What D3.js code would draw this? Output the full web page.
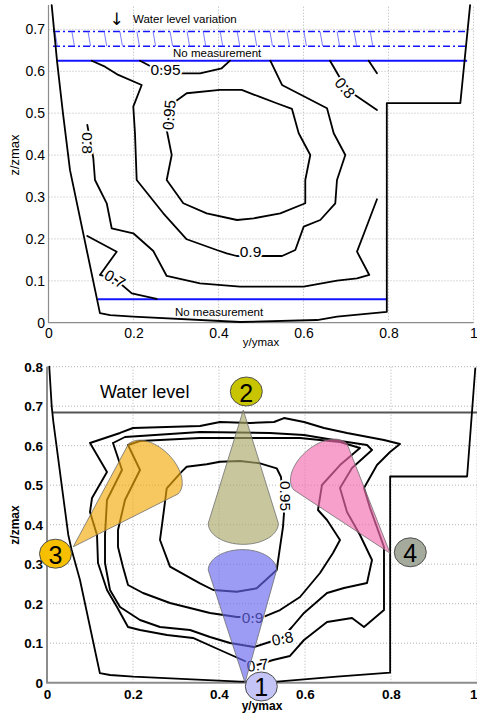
<!DOCTYPE html>
<html><head><meta charset="utf-8">
<script src="https://cdn.jsdelivr.net/npm/d3@7"></script>
<style>body{margin:0;background:#fff}</style>
</head><body><svg id="c" width="477" height="715"></svg>
<script>
// ---------------- DATA ----------------
const xTicks = [0, 0.2, 0.4, 0.6, 0.8, 1];
const xTickLabels = ["0", "0.2", "0.4", "0.6", "0.8", "1"];
const topYTicks = [0, 0.1, 0.2, 0.3, 0.4, 0.5, 0.6, 0.7];
const topYTickLabels = ["0", "0.1", "0.2", "0.3", "0.4", "0.5", "0.6", "0.7"];
const botYTicks = [0, 0.1, 0.2, 0.3, 0.4, 0.5, 0.6, 0.7, 0.8];
const botYTickLabels = ["0", "0.1", "0.2", "0.3", "0.4", "0.5", "0.6", "0.7", "0.8"];

// channel cross-section (y/ymax, z/zmax)
const topWall = [[0.0075,0.758],[0.02,0.625],[0.034,0.5],[0.0506,0.364],[0.121,0.023],[0.145,0.018],[0.199,0.0143],[0.451,0.0017],[0.632,0.0064],[0.679,0.0143],[0.796,0.026],[0.796,0.524],[0.969,0.524],[0.992,0.758]];
const botWall = [[0.0053,0.8],[0.011,0.699],[0.0147,0.661],[0.0495,0.374],[0.0574,0.336],[0.0767,0.26],[0.123,0.024],[0.1465,0.0195],[0.2007,0.0152],[0.449,0.0025],[0.535,0.0025],[0.674,0.0152],[0.798,0.0253],[0.798,0.522],[0.977,0.522],[0.996,0.796]];

// top panel reference levels
const waterVarTop = 0.695, waterVarBottom = 0.660, noMeasTop = 0.625, noMeasBottom = 0.056;
const waterVarSpan = [0.0106, 0.985];
const noMeasTopSpan = [0.02, 0.985];
const noMeasBottomSpan = [0.116, 0.797];
const hatchX = [0.015,0.055,0.093,0.131,0.168,0.208,0.246,0.286,0.326,0.364,0.404,0.444,0.484,0.521,0.561,0.601,0.639,0.679,0.719,0.757];

// top panel isolines
const topC07 = [[0.0913,0.207],[0.1605,0.1695],[0.121,0.114],[0.1565,0.1043],[0.196,0.070],[0.2546,0.0566]];
const topC08 = [[0.0913,0.4719],[0.1054,0.393],[0.1094,0.3406],[0.137,0.285],[0.1487,0.2253],[0.1995,0.2134],[0.2466,0.1711],[0.2781,0.1115],[0.3565,0.094],[0.4506,0.0859],[0.6005,0.0859],[0.6788,0.1003],[0.7259,0.106],[0.7548,0.1139],[0.7259,0.1695],[0.7454,0.2213],[0.7729,0.2946]];
const topC08b = [[0.6624,0.6253],[0.6859,0.584],[0.7212,0.5434],[0.7729,0.5076]];
const topC08c = [[0.7534,0.6253],[0.7729,0.5953]];
const topC09 = [[0.5219,0.6253],[0.5494,0.5674],[0.6553,0.5118],[0.6711,0.4521],[0.6984,0.4003],[0.6788,0.3406],[0.6748,0.285],[0.6395,0.2451],[0.6005,0.2292],[0.5807,0.1735],[0.5494,0.1592],[0.5064,0.1592],[0.4428,0.1592],[0.4193,0.1657],[0.3958,0.1735],[0.3252,0.1991],[0.2701,0.2611],[0.2075,0.3406],[0.2035,0.4521],[0.1995,0.5156],[0.2193,0.5674],[0.1642,0.5913],[0.1329,0.6111],[0.1016,0.6253]];
const topC095a = [[0.2153,0.6253],[0.2388,0.6126],[0.3094,0.5952],[0.3565,0.5952],[0.4075,0.6072],[0.4271,0.6253]];
const topC095b = [[0.2976,0.5275],[0.3252,0.5476],[0.4035,0.5555],[0.4546,0.5555],[0.4976,0.5388],[0.5369,0.5237],[0.5729,0.5101],[0.5887,0.4521],[0.616,0.4003],[0.6042,0.3406],[0.6042,0.285],[0.5454,0.2611],[0.4828,0.2492],[0.4435,0.2451],[0.3722,0.2611],[0.3172,0.285],[0.2781,0.3406],[0.2899,0.4003],[0.2781,0.46],[0.2835,0.4958],[0.2976,0.5275]];
const topLabels = [
  {t:"0.95", p:[0.2753,0.6044], r:0},
  {t:"0.95", p:[0.2835,0.4958], r:-85},
  {t:"0.8",  p:[0.0918,0.4289], r:90},
  {t:"0.8",  p:[0.6976,0.5603], r:50},
  {t:"0.9",  p:[0.4753,0.170],  r:0},
  {t:"0.7",  p:[0.1565,0.1043], r:30}
];

// bottom panel
const waterLevel = 0.684;
const waterLevelSpan = [0.012, 1.0];
const botC07 = [[0.1,0.6068],[0.1698,0.6322],[0.2,0.6448],[0.3558,0.6499],[0.4023,0.66],[0.4721,0.6575],[0.5279,0.66],[0.5512,0.6701],[0.5977,0.66],[0.6442,0.6448],[0.6977,0.6322],[0.7837,0.6144],[0.8209,0.6043],[0.7977,0.584],[0.7674,0.5511],[0.7372,0.4929],[0.7512,0.4423],[0.7721,0.379],[0.7837,0.3435],[0.7837,0.184],[0.7372,0.1411],[0.7093,0.1638],[0.6512,0.1537],[0.5977,0.1081],[0.5651,0.0676],[0.5256,0.0575],[0.4884,0.0448],[0.4651,0.0524],[0.4023,0.0828],[0.3395,0.1132],[0.2791,0.1208],[0.2163,0.1334],[0.1884,0.1411],[0.1628,0.1916],[0.1395,0.2347],[0.1186,0.303],[0.1163,0.3739],[0.1,0.4321],[0.1047,0.4676],[0.1395,0.5334],[0.1,0.6068]];
const botC08 = [[0.1535,0.6068],[0.1814,0.622],[0.3558,0.6347],[0.5186,0.6322],[0.5977,0.6271],[0.6674,0.6144],[0.7442,0.6018],[0.7558,0.5891],[0.7093,0.5436],[0.6814,0.4929],[0.6977,0.4321],[0.7279,0.3739],[0.7558,0.3106],[0.7442,0.2524],[0.6907,0.2397],[0.6512,0.2271],[0.5977,0.1765],[0.5698,0.141],[0.5465,0.1131],[0.4814,0.0903],[0.4256,0.1005],[0.3791,0.1157],[0.3326,0.1334],[0.2628,0.141],[0.2163,0.1587],[0.1698,0.1916],[0.1465,0.2347],[0.1349,0.303],[0.1349,0.3739],[0.1395,0.4625],[0.1744,0.5385],[0.1535,0.6068]];
const botC09 = [[0.1884,0.6018],[0.2163,0.6119],[0.3558,0.6195],[0.5884,0.6195],[0.6814,0.6094],[0.7279,0.5942],[0.6814,0.5511],[0.6395,0.5005],[0.6302,0.4372],[0.6512,0.4119],[0.6814,0.3613],[0.6651,0.3284],[0.6349,0.2777],[0.5884,0.217],[0.5419,0.184],[0.5023,0.1663],[0.4419,0.1663],[0.3791,0.1765],[0.286,0.2018],[0.2233,0.2271],[0.1884,0.2473],[0.1767,0.2929],[0.1651,0.3435],[0.1651,0.3866],[0.1814,0.4625],[0.2163,0.5385],[0.1884,0.6018]];
const botC095 = [[0.3133,0.5342],[0.3249,0.5468],[0.3714,0.5529],[0.4023,0.5595],[0.4488,0.5613],[0.4953,0.5554],[0.5342,0.5428],[0.5442,0.5208],[0.5512,0.4296],[0.5488,0.3942],[0.5419,0.3435],[0.5342,0.2853],[0.4877,0.239],[0.4412,0.2304],[0.3867,0.2347],[0.3558,0.2516],[0.286,0.2937],[0.2628,0.3613],[0.2705,0.4246],[0.2784,0.4922],[0.3133,0.5342]];
const botLabels = [
  {t:"0.95", p:[0.5535,0.4727], r:90},
  {t:"0.9",  p:[0.4779,0.1638], r:0},
  {t:"0.8",  p:[0.5477,0.1119], r:-12},
  {t:"0.7",  p:[0.4895,0.0448], r:-8}
];
// probe cones: apex, two ends of the rounded base
const coneNames = ["1", "2", "3", "4"];
const coneApex = [[0.4605,0.0],[0.4565,0.690],[0.061,0.344],[0.798,0.3276]];
const coneEndA = [[0.534,0.285],[0.538,0.4035],[0.189,0.6035],[0.698,0.604]];
const coneEndB = [[0.375,0.285],[0.375,0.4035],[0.305,0.478],[0.574,0.488]];
const markerCenters = [[0.4984,-0.0096],[0.4635,0.7372],[0.0198,0.3266],[0.8449,0.3301]];

// ---------------- STYLE ----------------
const FONT = '"Liberation Sans", Arial, Helvetica, sans-serif';
const coneFill = ["#6767ee", "#aaa767", "#f4aa0a", "#f46db1"];
const markerFill = ["#c4c4f6", "#c8c400", "#f6c000", "#a4aa9c"];
const coneOpacity = 0.65, coneBulge = 0.3;

const svg = d3.select("#c");
svg.append("rect").attr("width", 477).attr("height", 715).attr("fill", "#fff");

const sxT = d3.scaleLinear([0, 1], [48.5, 473.5]);
const syT = d3.scaleLinear([0, 0.7], [322.7, 29.4]);
const sxB = d3.scaleLinear([0, 1], [47, 477]);
const syB = d3.scaleLinear([0, 0.8], [682.7, 366.7]);

function grid(sx, sy, yt, ytop) {
  const g = svg.append("g").attr("stroke", "#b4b4b4").attr("stroke-width", 1).attr("stroke-dasharray", "1,2");
  xTicks.slice(1).forEach(v => g.append("line").attr("x1", sx(v)).attr("x2", sx(v)).attr("y1", sy(0)).attr("y2", sy(ytop)));
  yt.slice(1).forEach(v => g.append("line").attr("x1", sx(0)).attr("x2", sx(1)).attr("y1", sy(v)).attr("y2", sy(v)));
}
function axes(sx, sy, yt, ytl, ytop, bold, padX, padY, sw, fs, lastEnd) {
  const gx = svg.append("g").attr("transform", `translate(0,${sy(0)})`)
    .call(d3.axisBottom(sx).tickValues(xTicks).tickFormat((d, i) => xTickLabels[i]).tickSize(0).tickPadding(padX));
  gx.select(".domain").remove();
  gx.selectAll("text").attr("font-size", fs).attr("font-family", FONT).attr("fill", "#000").attr("font-weight", bold ? "bold" : "normal");
  if (lastEnd) gx.selectAll(".tick").filter(d => d === 1).select("text").attr("text-anchor", "end").attr("x", 0);
  const gy = svg.append("g").attr("transform", `translate(${sx(0)},0)`)
    .call(d3.axisLeft(sy).tickValues(yt).tickFormat((d, i) => ytl[i]).tickSize(0).tickPadding(padY));
  gy.select(".domain").remove();
  gy.selectAll("text").attr("font-size", fs).attr("font-family", FONT).attr("fill", "#000").attr("font-weight", bold ? "bold" : "normal");
  svg.append("path").attr("d", `M${sx(0)},${sy(ytop)}V${sy(0)}H${sx(1)}`).attr("fill", "none").attr("stroke", "#8c8c8c").attr("stroke-width", sw);
}
function poly(sx, sy, pts, w, color) {
  const line = d3.line().x(d => sx(d[0])).y(d => sy(d[1]));
  svg.append("path").attr("d", line(pts)).attr("fill", "none").attr("stroke", color || "#000")
    .attr("stroke-width", w).attr("stroke-linejoin", "round").attr("stroke-linecap", "round");
}
function labels(sx, sy, arr, size) {
  arr.forEach(l => {
    svg.append("text").attr("transform", `translate(${sx(l.p[0])},${sy(l.p[1])}) rotate(${l.r})`)
      .attr("text-anchor", "middle").attr("dominant-baseline", "central")
      .attr("font-family", FONT).attr("font-size", size).attr("fill", "#000")
      .attr("stroke", "#fff").attr("stroke-width", 4).attr("paint-order", "stroke").text(l.t);
  });
}

// ============ TOP PANEL ============
grid(sxT, syT, topYTicks, 0.758);
axes(sxT, syT, topYTicks, topYTickLabels, 0.758, false, 5.3, 3.5, 1.2, 14, false);
svg.append("text").attr("transform", `translate(19,155) rotate(-90)`).attr("text-anchor", "middle")
  .attr("font-family", FONT).attr("font-size", 13).text("z/zmax");
svg.append("text").attr("x", sxT(0.5)).attr("y", 346).attr("text-anchor", "middle")
  .attr("font-family", FONT).attr("font-size", 11.5).text("y/ymax");

// blue lines
const blue = "#1414ff";
[waterVarTop, waterVarBottom].forEach(z => svg.append("line")
  .attr("x1", sxT(waterVarSpan[0])).attr("x2", sxT(waterVarSpan[1])).attr("y1", syT(z)).attr("y2", syT(z))
  .attr("stroke", blue).attr("stroke-width", 1.5).attr("stroke-dasharray", "7,3,2,3"));
hatchX.forEach(x => svg.append("line")
  .attr("x1", sxT(x)).attr("x2", sxT(x + 0.006)).attr("y1", syT(waterVarTop)).attr("y2", syT(waterVarBottom))
  .attr("stroke", "#5a5aff").attr("stroke-width", 0.8));
svg.append("line").attr("x1", sxT(noMeasTopSpan[0])).attr("x2", sxT(noMeasTopSpan[1]))
  .attr("y1", syT(noMeasTop)).attr("y2", syT(noMeasTop)).attr("stroke", blue).attr("stroke-width", 2);
svg.append("line").attr("x1", sxT(noMeasBottomSpan[0])).attr("x2", sxT(noMeasBottomSpan[1]))
  .attr("y1", syT(noMeasBottom)).attr("y2", syT(noMeasBottom)).attr("stroke", blue).attr("stroke-width", 2);

poly(sxT, syT, topWall, 1.8);
[topC07, topC08, topC08b, topC08c, topC09, topC095a, topC095b].forEach(c => poly(sxT, syT, c, 1.8));
labels(sxT, syT, topLabels, 15.5);

svg.append("text").attr("x", sxT(0.16)).attr("y", syT(0.7105)).attr("text-anchor", "middle")
  .attr("font-family", "DejaVu Sans").attr("font-size", 17).text("↓");
svg.append("text").attr("x", sxT(0.1988)).attr("y", syT(0.7146)).attr("font-family", FONT).attr("font-size", 11.5).text("Water level variation");
svg.append("text").attr("x", sxT(0.293)).attr("y", syT(0.6353)).attr("font-family", FONT).attr("font-size", 11.5).text("No measurement");
svg.append("text").attr("x", sxT(0.2976)).attr("y", syT(0.0148)).attr("font-family", FONT).attr("font-size", 11.5).text("No measurement");

// ============ BOTTOM PANEL ============
grid(sxB, syB, botYTicks, 0.8);
axes(sxB, syB, botYTicks, botYTickLabels, 0.8, true, 6.3, 4, 2, 13.5, true);
svg.append("text").attr("transform", `translate(19,525) rotate(-90)`).attr("text-anchor", "middle")
  .attr("font-family", FONT).attr("font-weight", "bold").attr("font-size", 12).text("z/zmax");
svg.append("text").attr("x", 262).attr("y", 710).attr("text-anchor", "middle")
  .attr("font-family", FONT).attr("font-weight", "bold").attr("font-size", 12).text("y/ymax");

svg.append("line").attr("x1", sxB(waterLevelSpan[0])).attr("x2", sxB(waterLevelSpan[1]))
  .attr("y1", syB(waterLevel)).attr("y2", syB(waterLevel)).attr("stroke", "#555").attr("stroke-width", 2.2);
svg.append("text").attr("x", sxB(0.1233)).attr("y", syB(0.7215)).attr("font-family", FONT).attr("font-size", 18).text("Water level");

poly(sxB, syB, botWall, 1.8);
[botC07, botC08, botC09, botC095].forEach(c => poly(sxB, syB, c, 1.9));
labels(sxB, syB, botLabels, 15.5);

// cones
coneNames.forEach((n, i) => {
  const A = [sxB(coneApex[i][0]), syB(coneApex[i][1])];
  const P1 = [sxB(coneEndA[i][0]), syB(coneEndA[i][1])];
  const P2 = [sxB(coneEndB[i][0]), syB(coneEndB[i][1])];
  const M = [(P1[0] + P2[0]) / 2, (P1[1] + P2[1]) / 2];
  const dx = P1[0] - P2[0], dy = P1[1] - P2[1];
  const L = Math.hypot(dx, dy), a = L / 2, b = L * coneBulge;
  const u = [dx / L, dy / L];
  let nv = [-u[1], u[0]];
  if (nv[0] * (M[0] - A[0]) + nv[1] * (M[1] - A[1]) < 0) nv = [u[1], -u[0]];
  const pts = [A, P1];
  for (let k = 1; k < 40; k++) {
    const t = Math.PI * k / 40;
    pts.push([M[0] + a * Math.cos(t) * u[0] + b * Math.sin(t) * nv[0], M[1] + a * Math.cos(t) * u[1] + b * Math.sin(t) * nv[1]]);
  }
  pts.push(P2);
  svg.append("path").attr("d", d3.line()(pts) + "Z").attr("fill", coneFill[i]).attr("fill-opacity", coneOpacity)
    .attr("stroke", "#6e6e6e").attr("stroke-width", 0.8);
});
// markers
coneNames.forEach((n, i) => {
  const cx = sxB(markerCenters[i][0]), cy = syB(markerCenters[i][1]);
  svg.append("ellipse").attr("cx", cx).attr("cy", cy).attr("rx", 16).attr("ry", 14.5)
    .attr("fill", markerFill[i]).attr("stroke", "#505050").attr("stroke-width", 1);
  svg.append("text").attr("x", cx).attr("y", cy + 1).attr("text-anchor", "middle").attr("dominant-baseline", "central")
    .attr("font-family", FONT).attr("font-size", 25).attr("fill", "#000").text(n);
});
</script></body></html>
